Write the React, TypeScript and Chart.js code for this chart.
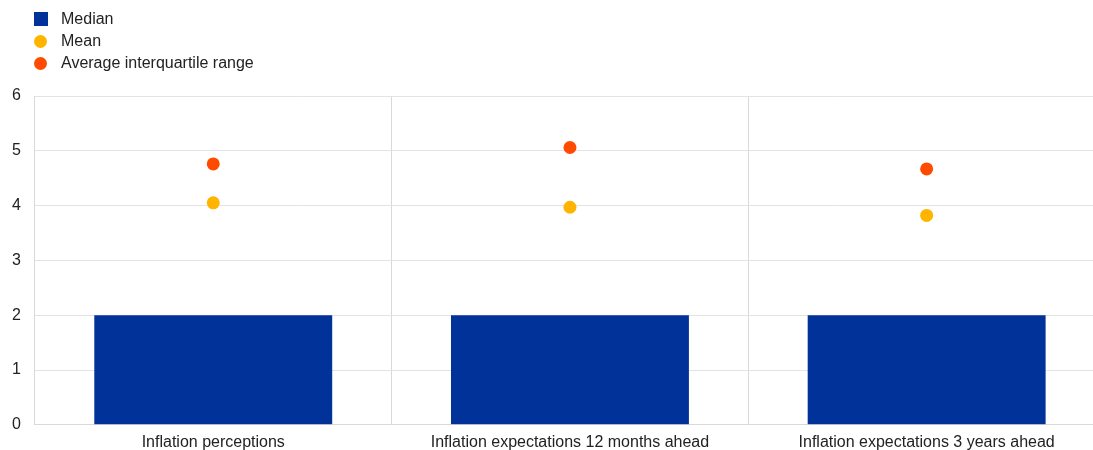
import React, { useEffect, useRef } from "react";
import { Chart, registerables } from "chart.js";

Chart.register(...registerables);

const categories = [
  "Inflation perceptions",
  "Inflation expectations 12 months ahead",
  "Inflation expectations 3 years ahead",
];
const medianValues = [2.0, 2.0, 2.0];
const meanValues = [4.05, 3.97, 3.82];
const iqrValues = [4.76, 5.06, 4.67];
const yTicks = [0, 1, 2, 3, 4, 5, 6];

const BLUE = "#003299";
const YELLOW = "#ffb400";
const ORANGE = "#ff4b00";
const FONT = "'Liberation Sans', Arial, sans-serif";

const legendItems = [
  { label: "Median", color: BLUE, shape: "square" },
  { label: "Mean", color: YELLOW, shape: "circle" },
  { label: "Average interquartile range", color: ORANGE, shape: "circle" },
];

export default function App() {
  const ref = useRef<HTMLCanvasElement | null>(null);

  useEffect(() => {
    if (!ref.current) return;
    const chart = new Chart(ref.current, {
      type: "bar",
      data: {
        labels: categories,
        datasets: [
          {
            type: "line",
            label: "Average interquartile range",
            data: iqrValues,
            showLine: false,
            pointRadius: 6.5,
            pointHoverRadius: 6.5,
            pointBackgroundColor: ORANGE,
            pointBorderWidth: 0,
            borderColor: ORANGE,
            backgroundColor: ORANGE,
          } as any,
          {
            type: "line",
            label: "Mean",
            data: meanValues,
            showLine: false,
            pointRadius: 6.5,
            pointHoverRadius: 6.5,
            pointBackgroundColor: YELLOW,
            pointBorderWidth: 0,
            borderColor: YELLOW,
            backgroundColor: YELLOW,
          } as any,
          {
            type: "bar",
            label: "Median",
            data: medianValues,
            backgroundColor: BLUE,
            borderWidth: 0,
            categoryPercentage: 1,
            barPercentage: 0.667,
          } as any,
        ],
      },
      options: {
        responsive: false,
        animation: false,
        layout: { autoPadding: false, padding: { left: 11, right: 0, top: 96, bottom: 0 } },
        plugins: {
          legend: { display: false },
          tooltip: { enabled: false },
        },
        scales: {
          x: {
            grid: { color: "#d9d9d9", offset: true, drawTicks: false },
            border: { color: "#d9d9d9" },
            ticks: {
              color: "#222",
              font: { family: FONT, size: 16 },
              padding: 8,
              maxRotation: 0,
            },
          },
          y: {
            min: 0,
            max: 6,
            afterBuildTicks: (axis: any) => {
              axis.ticks = yTicks.map((v) => ({ value: v }));
            },
            grid: { color: "#e3e3e3", drawTicks: false },
            border: { color: "#d9d9d9" },
            ticks: {
              color: "#222",
              font: { family: FONT, size: 16 },
              padding: 14,
            },
          },
        },
      },
    } as any);
    return () => chart.destroy();
  }, []);

  return (
    <div
      style={{
        position: "fixed",
        left: 0,
        top: 0,
        width: 1093,
        height: 450,
        overflow: "hidden",
        background: "#fff",
      }}
    >
      <canvas
        ref={ref}
        width={1118}
        height={460}
        style={{ display: "block", position: "absolute", left: -13, top: 0 }}
      />
      <div
        style={{
          position: "absolute",
          left: 34,
          top: 8,
          fontFamily: FONT,
          fontSize: 16,
          color: "#222",
        }}
      >
        {legendItems.map((it) => (
          <div
            key={it.label}
            style={{ display: "flex", alignItems: "center", height: 22 }}
          >
            <span
              style={{
                display: "inline-block",
                width: it.shape === "square" ? 14 : 13,
                height: it.shape === "square" ? 14 : 13,
                borderRadius: it.shape === "square" ? 0 : "50%",
                background: it.color,
                marginRight: it.shape === "square" ? 13 : 14,
              }}
            />
            <span>{it.label}</span>
          </div>
        ))}
      </div>
    </div>
  );
}
